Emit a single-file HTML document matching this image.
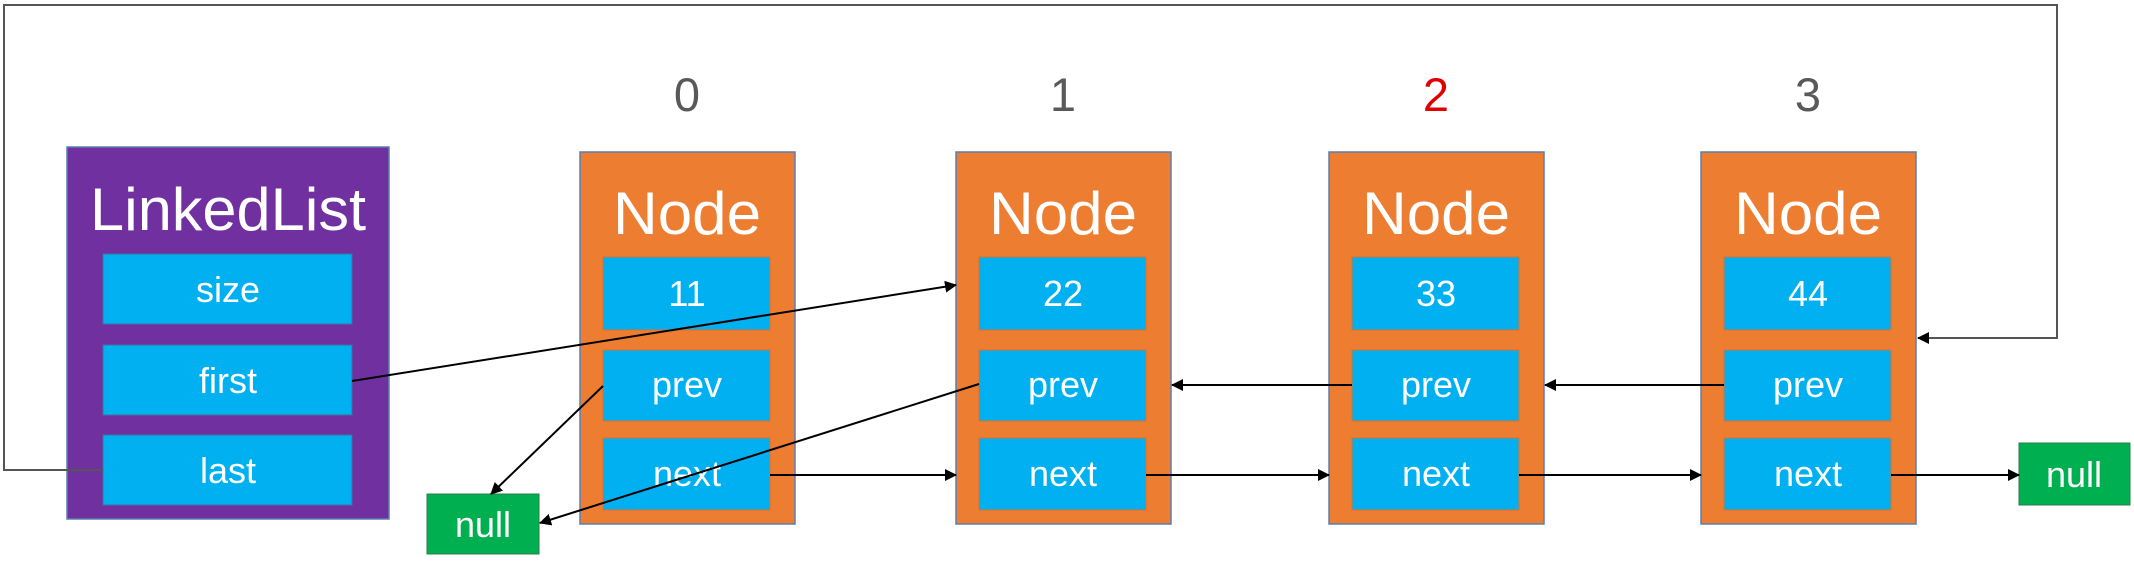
<!DOCTYPE html>
<html><head><meta charset="utf-8"><style>
body{margin:0;background:#fff;}
svg text{font-family:"Liberation Sans",sans-serif;}
</style></head><body>
<svg width="2134" height="558" xmlns="http://www.w3.org/2000/svg">
<defs><marker id="a" markerWidth="12" markerHeight="12" refX="11" refY="6" orient="auto" markerUnits="userSpaceOnUse"><path d="M0,0 L12,6 L0,12 z" fill="#000"/></marker></defs>
<rect x="67" y="147" width="322" height="372" fill="#7030a0" stroke="#5b7fb0" stroke-width="1.5"/>
<text x="228" y="230" font-size="60" fill="#fff" text-anchor="middle" textLength="276" lengthAdjust="spacingAndGlyphs">LinkedList</text>
<g fill="#00b0f0" stroke="#41719c" stroke-width="1">
<rect x="103" y="254" width="249" height="70"/><rect x="103" y="345" width="249" height="70"/><rect x="103" y="435" width="249" height="70"/>
</g>
<g font-size="36" fill="#fff" text-anchor="middle">
<text x="228" y="302">size</text><text x="228" y="393">first</text><text x="228" y="483">last</text>
</g>
<g transform="translate(580,0)">
<rect x="0" y="152" width="215" height="372" fill="#ed7d31" stroke="#5b7fb0" stroke-width="1.5"/>
<text x="107" y="234" font-size="60" fill="#fff" text-anchor="middle" textLength="148" lengthAdjust="spacingAndGlyphs">Node</text>
<g fill="#00b0f0" stroke="#e07028"><rect x="23" y="257" width="167" height="73"/><rect x="23" y="350" width="167" height="71"/><rect x="23" y="438" width="167" height="72"/></g>
<g font-size="36" fill="#fff" text-anchor="middle"><text x="107" y="306">11</text><text x="107" y="397">prev</text><text x="107" y="486">next</text></g>
<text x="107" y="111" font-size="47" fill="#595959" text-anchor="middle">0</text>
</g>
<g transform="translate(956,0)">
<rect x="0" y="152" width="215" height="372" fill="#ed7d31" stroke="#5b7fb0" stroke-width="1.5"/>
<text x="107" y="234" font-size="60" fill="#fff" text-anchor="middle" textLength="148" lengthAdjust="spacingAndGlyphs">Node</text>
<g fill="#00b0f0" stroke="#e07028"><rect x="23" y="257" width="167" height="73"/><rect x="23" y="350" width="167" height="71"/><rect x="23" y="438" width="167" height="72"/></g>
<g font-size="36" fill="#fff" text-anchor="middle"><text x="107" y="306">22</text><text x="107" y="397">prev</text><text x="107" y="486">next</text></g>
<text x="107" y="111" font-size="47" fill="#595959" text-anchor="middle">1</text>
</g>
<g transform="translate(1329,0)">
<rect x="0" y="152" width="215" height="372" fill="#ed7d31" stroke="#5b7fb0" stroke-width="1.5"/>
<text x="107" y="234" font-size="60" fill="#fff" text-anchor="middle" textLength="148" lengthAdjust="spacingAndGlyphs">Node</text>
<g fill="#00b0f0" stroke="#e07028"><rect x="23" y="257" width="167" height="73"/><rect x="23" y="350" width="167" height="71"/><rect x="23" y="438" width="167" height="72"/></g>
<g font-size="36" fill="#fff" text-anchor="middle"><text x="107" y="306">33</text><text x="107" y="397">prev</text><text x="107" y="486">next</text></g>
<text x="107" y="111" font-size="47" fill="#e00000" text-anchor="middle">2</text>
</g>
<g transform="translate(1701,0)">
<rect x="0" y="152" width="215" height="372" fill="#ed7d31" stroke="#5b7fb0" stroke-width="1.5"/>
<text x="107" y="234" font-size="60" fill="#fff" text-anchor="middle" textLength="148" lengthAdjust="spacingAndGlyphs">Node</text>
<g fill="#00b0f0" stroke="#e07028"><rect x="23" y="257" width="167" height="73"/><rect x="23" y="350" width="167" height="71"/><rect x="23" y="438" width="167" height="72"/></g>
<g font-size="36" fill="#fff" text-anchor="middle"><text x="107" y="306">44</text><text x="107" y="397">prev</text><text x="107" y="486">next</text></g>
<text x="107" y="111" font-size="47" fill="#595959" text-anchor="middle">3</text>
</g>
<rect x="427" y="494" width="112" height="60" fill="#00b050" stroke="#2e7d4a"/>
<text x="483" y="537" font-size="36" fill="#fff" text-anchor="middle">null</text>
<rect x="2019" y="443" width="111" height="62" fill="#00b050" stroke="#2e7d4a"/>
<text x="2074" y="487" font-size="36" fill="#fff" text-anchor="middle">null</text>
<g stroke="#000" stroke-width="2" fill="none" marker-end="url(#a)">
<path d="M103,470 H4 V5 H2057 V338 H1918" stroke="#555"/>
<line x1="352" y1="381" x2="956" y2="285"/>
<line x1="603" y1="386" x2="491" y2="494"/>
<line x1="979" y1="384" x2="540" y2="523"/>
<line x1="770" y1="475" x2="956" y2="475"/>
<line x1="1146" y1="475" x2="1329" y2="475"/>
<line x1="1519" y1="475" x2="1701" y2="475"/>
<line x1="1891" y1="475" x2="2019" y2="475"/>
<line x1="1352" y1="385" x2="1172" y2="385"/>
<line x1="1724" y1="385" x2="1545" y2="385"/>
</g>
</svg>
</body></html>
